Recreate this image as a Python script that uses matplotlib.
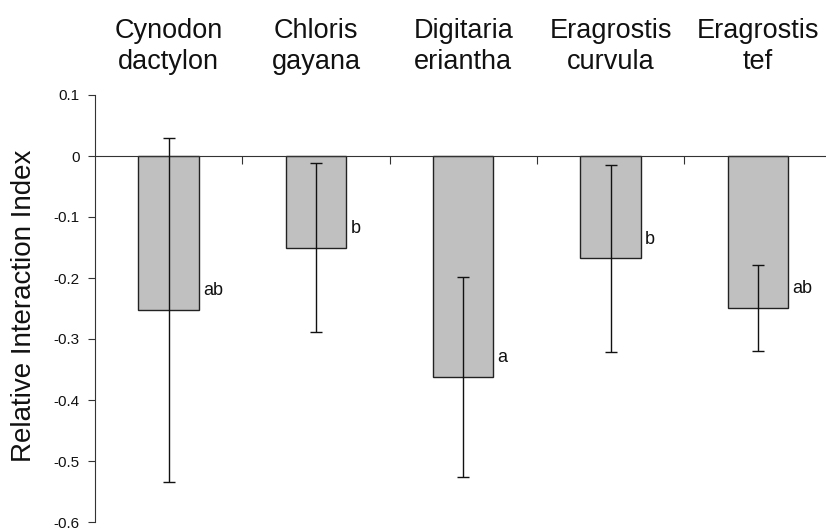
import matplotlib
matplotlib.use("Agg")
import matplotlib.pyplot as plt
import numpy as np

plt.rcParams['font.family'] = ['Liberation Sans', 'DejaVu Sans']

species = ["Cynodon\ndactylon", "Chloris\ngayana", "Digitaria\neriantha",
           "Eragrostis\ncurvula", "Eragrostis\ntef"]
means = [-0.252, -0.150, -0.363, -0.168, -0.249]
errors = [0.282, 0.139, 0.164, 0.153, 0.071]
letters = ["ab", "b", "a", "b", "ab"]
yticks = [0.1, 0, -0.1, -0.2, -0.3, -0.4, -0.5, -0.6]
ytick_labels = ["0.1", "0", "-0.1", "-0.2", "-0.3", "-0.4", "-0.5", "-0.6"]

W, H = 826, 529
fig = plt.figure(figsize=(W / 100, H / 100), dpi=100)
left_px, right_px, top_px, bot_px = 95, 831.5, 95, 522
ax = fig.add_axes([left_px / W, (H - bot_px) / H, (right_px - left_px) / W, (bot_px - top_px) / H])
ax.set_xlim(0, len(species))
ax.set_ylim(-0.6, 0.1)

x = np.arange(len(species)) + 0.5
width = 0.41
ax.bar(x, means, width=width, color="#c0c0c0", edgecolor="#222222", linewidth=1.0, zorder=2)
ax.errorbar(x, means, yerr=errors, fmt="none", ecolor="#111111", elinewidth=1.0,
            capsize=4, capthick=1.0, zorder=3)

for xi, m, l in zip(x, means, letters):
    ax.annotate(l, xy=(xi + width / 2, m), xytext=(3, 14), textcoords="offset points",
                ha="left", va="center", fontsize=13, color="#111111")

for xi, s in zip(x, species):
    fig.text((left_px + xi * (right_px - left_px) / len(species)) / W, 1 - 18 / H, s,
             ha="center", va="top", fontsize=19.5, color="#111111", linespacing=1.25)

ax.spines["top"].set_visible(False)
ax.spines["right"].set_visible(False)
ax.spines["bottom"].set_position(("data", 0))
ax.spines["bottom"].set_linewidth(0.8)
ax.spines["left"].set_linewidth(0.8)
ax.spines["bottom"].set_color("#333333")
ax.spines["left"].set_color("#333333")

ax.set_xticks(np.arange(1, len(species)))
ax.set_xticklabels([])
ax.tick_params(axis="x", direction="out", length=6, width=0.8, color="#333333")
ax.set_yticks(yticks)
ax.set_yticklabels(ytick_labels)
ax.tick_params(axis="y", direction="out", length=5, width=0.8, labelsize=11, pad=6,
               color="#333333", labelcolor="#111111")

fig.text(24 / W, (H - 306) / H, "Relative Interaction Index", rotation=90,
         ha="center", va="center", fontsize=20, color="#111111")

fig.savefig("out.png", dpi=100)
